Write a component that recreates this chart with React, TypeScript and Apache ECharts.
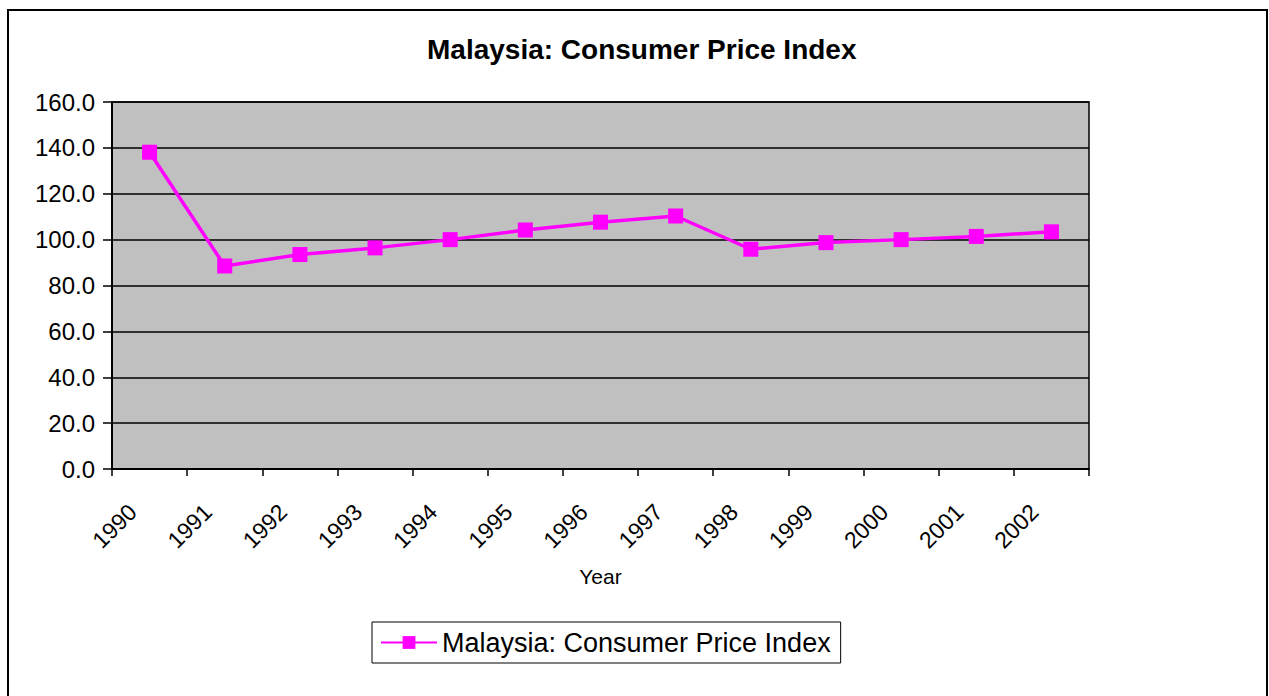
import React, { useEffect, useRef } from "react";
import * as echarts from "echarts";

const years = ["1990", "1991", "1992", "1993", "1994", "1995", "1996", "1997", "1998", "1999", "2000", "2001", "2002"];
const cpiValues = [138.1, 88.5, 93.5, 96.4, 100.0, 104.2, 107.6, 110.3, 95.8, 98.7, 100.0, 101.4, 103.4];
const seriesName = "Malaysia: Consumer Price Index";
const titleText = "Malaysia: Consumer Price Index";
const xAxisName = "Year";

const FONT = "'Liberation Sans', Arial, sans-serif";

export default function App() {
  const ref = useRef<HTMLDivElement>(null);
  useEffect(() => {
    if (!ref.current) return;
    const chart = echarts.init(ref.current, undefined, { renderer: "svg" });
    chart.setOption({
      animation: false,
      backgroundColor: "#ffffff",
      textStyle: { fontFamily: FONT, color: "#000" },
      title: {
        text: titleText,
        left: 427,
        top: 35,
        padding: 0,
        textStyle: { fontFamily: FONT, fontSize: 28, fontWeight: "bold", color: "#000" },
      },
      graphic: [
        {
          type: "rect",
          shape: { x: 8, y: 10, width: 1259, height: 700 },
          style: { fill: "none", stroke: "#000", lineWidth: 2 },
          silent: true,
          z: 100,
        },
      ],
      legend: {
        left: 372,
        top: 622,
        orient: "horizontal",
        padding: [7, 10, 7, 8],
        borderColor: "#000",
        borderWidth: 1,
        borderRadius: 0,
        itemWidth: 56,
        itemHeight: 16,
        itemGap: 6,
        textStyle: { fontFamily: FONT, fontSize: 27, color: "#000" },
        data: [seriesName],
      },
      grid: {
        left: 112,
        top: 102,
        right: 180,
        bottom: 227,
        show: true,
        backgroundColor: "#C0C0C0",
        borderColor: "#000",
        borderWidth: 1.5,
        containLabel: false,
      },
      xAxis: {
        type: "category",
        data: years,
        boundaryGap: true,
        name: xAxisName,
        nameLocation: "middle",
        nameGap: 97,
        nameTextStyle: { fontFamily: FONT, fontSize: 21, color: "#000" },
        axisLine: { show: true, lineStyle: { color: "#000", width: 2 } },
        axisTick: { show: true, interval: 0, length: 7, lineStyle: { color: "#000", width: 1.5 } },
        axisLabel: {
          interval: 0,
          rotate: 45,
          margin: 22,
          padding: [0, 24, 0, 0],
          fontFamily: FONT,
          fontSize: 23,
          color: "#000",
        },
        splitLine: { show: false },
      },
      yAxis: {
        type: "value",
        min: 0,
        max: 160,
        interval: 20,
        axisLine: { show: true, lineStyle: { color: "#000", width: 2 } },
        axisTick: { show: true, length: 9, lineStyle: { color: "#000", width: 1.5 } },
        axisLabel: {
          margin: 17,
          fontFamily: FONT,
          fontSize: 24,
          color: "#000",
          formatter: (v: number) => v.toFixed(1),
        },
        splitLine: { show: true, lineStyle: { color: "#000", width: 1.5 } },
      },
      series: [
        {
          name: seriesName,
          type: "line",
          data: cpiValues,
          symbol: "rect",
          symbolSize: 15,
          lineStyle: { color: "#FF00FF", width: 3.5 },
          itemStyle: { color: "#FF00FF" },
        },
      ],
    });
    return () => chart.dispose();
  }, []);
  return (
    <div
      ref={ref}
      style={{ position: "absolute", left: 0, top: 0, width: 1269, height: 696 }}
    />
  );
}
